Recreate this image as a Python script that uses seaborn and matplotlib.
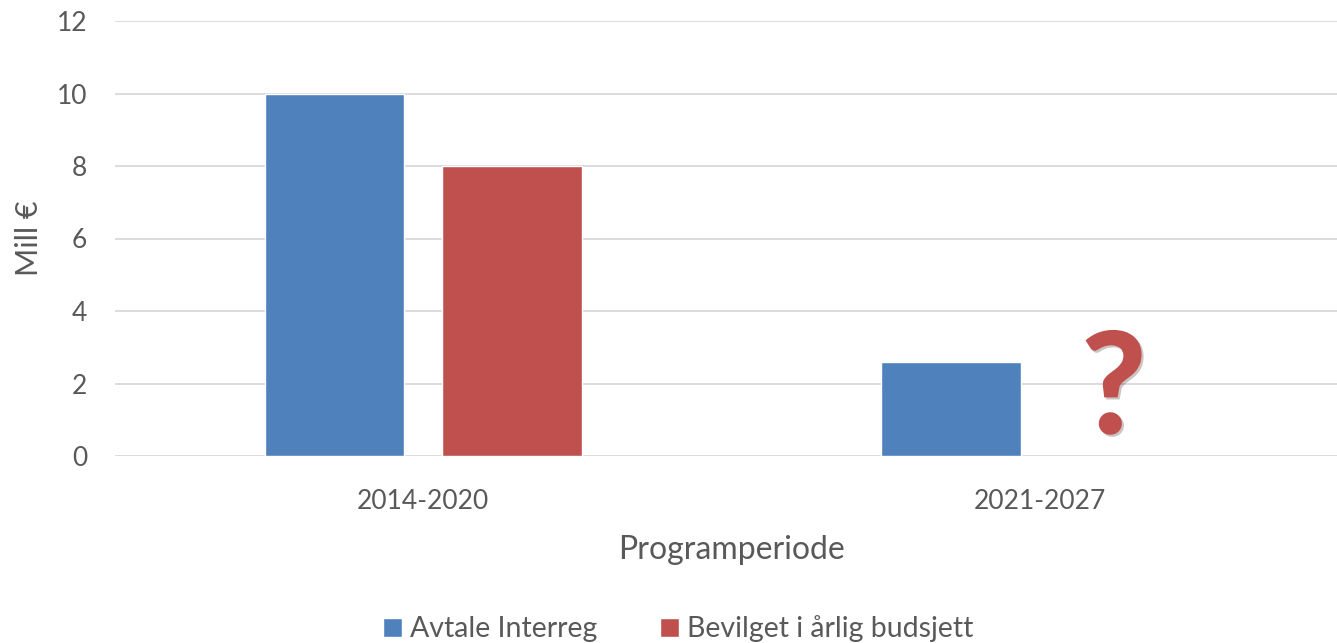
import numpy as np
import pandas as pd
import matplotlib
matplotlib.use("Agg")
import matplotlib.pyplot as plt
import matplotlib.patheffects as pe
import seaborn as sns

# data
periods = ["2014-2020", "2021-2027"]
series = ["Avtale Interreg", "Bevilget i årlig budsjett"]
avtale = [10, 2.6]
bevilget = [8, np.nan]
colors = ["#4F81BD", "#C0504D"]

df = pd.DataFrame({
    "Programperiode": periods * 2,
    "Serie": [series[0]] * 2 + [series[1]] * 2,
    "Verdi": avtale + bevilget,
})

sns.set_theme(style="white")
plt.rcParams["font.family"] = ["Lato", "DejaVu Sans"]
text_col = "#595959"

fig = plt.figure(figsize=(13.37, 6.43), dpi=100)
ax = fig.add_axes([115 / 1337, (643 - 456) / 643, 1233 / 1337, 435 / 643])

sns.barplot(data=df, x="Programperiode", y="Verdi", hue="Serie",
            palette=colors, width=0.575, gap=0.214, ax=ax,
            saturation=1, legend=True)

ax.set_xlim(-0.5, 1.5)
ax.set_ylim(0, 12)
ax.set_yticks(range(0, 13, 2))
ax.yaxis.grid(True, color="#D9D9D9", linewidth=1.3)
ax.set_axisbelow(True)
for s in ax.spines.values():
    s.set_visible(False)
ax.tick_params(axis="both", length=0, labelsize=19, labelcolor=text_col)
ax.tick_params(axis="x", pad=24)
ax.tick_params(axis="y", pad=20)
ax.set_xlabel("Programperiode", fontsize=23, color=text_col, labelpad=15)
ax.set_ylabel("Mill €", fontsize=22, color=text_col, labelpad=10)

# missing value marker
ax.text(1 + 0.12, -0.05, "?", ha="center", va="bottom", fontsize=102,
        fontweight="black", color=colors[1], clip_on=False,
        path_effects=[pe.SimplePatchShadow(offset=(1.5, -1.5), alpha=0.25), pe.Normal()])

handles, labels = ax.get_legend_handles_labels()
ax.legend_.remove()
fig.legend(handles, labels, loc="center", bbox_to_anchor=(0.5075, 1 - 629 / 643),
           ncol=2, frameon=False, fontsize=20.5, handlelength=0.65, handleheight=0.65,
           handletextpad=0.3, columnspacing=2.2, labelcolor=text_col)

fig.savefig("out.png", dpi=100)
